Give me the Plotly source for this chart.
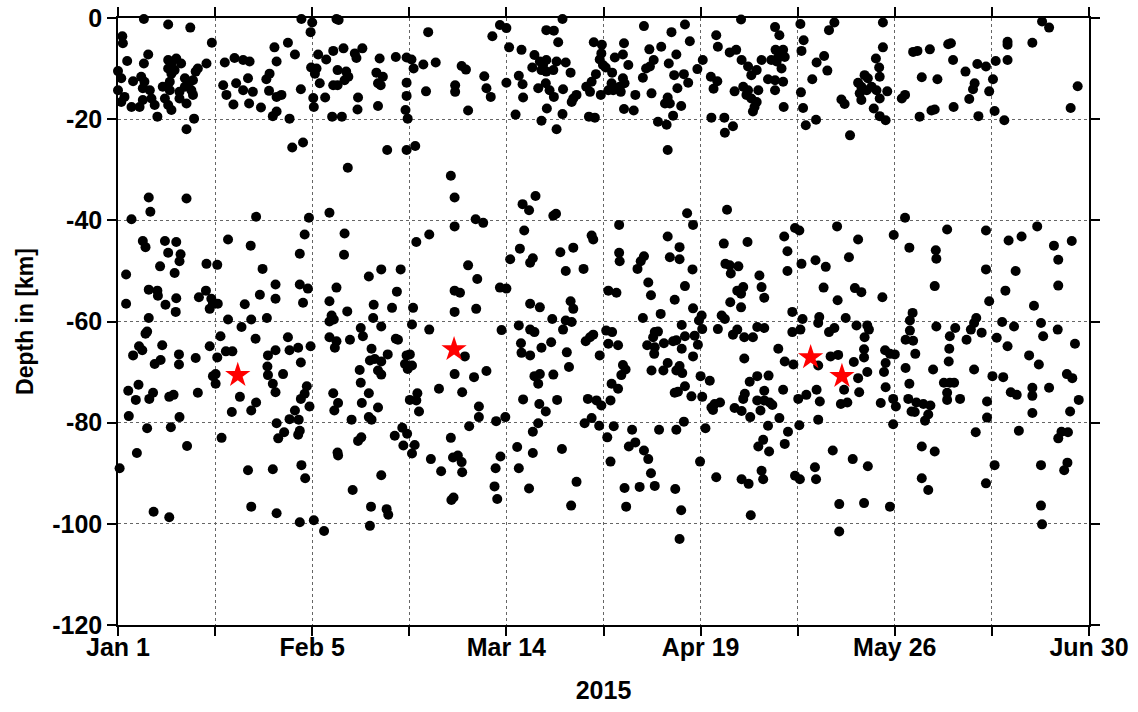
import plotly.graph_objects as go

# Day offsets are days since Jan 1 2015; depth in km (negative downwards)
tick_days = [0, 18, 36, 54, 72, 90, 108, 126, 144, 162, 180]
tick_text = ["Jan 1", "", "Feb 5", "", "Mar 14", "", "Apr 19", "", "May 26", "", "Jun 30"]
depth_ticks = [-120, -100, -80, -60, -40, -20, 0]

shallow_events = [
    (4.8,-0.2),(9.3,-1.3),(13.4,-1.9),(0.8,-3.6),(0.9,-5.0),(17.4,-4.9),(5.6,-7.2),(1.7,-8.5),(4.8,-9.0),(9.3,-8.3),
    (10.8,-8.0),(9.9,-9.0),(11.7,-9.0),(9.3,-10.0),(10.5,-10.3),(16.4,-9.0),(14.8,-10.0),(14.4,-10.6),(0.0,-10.5),(0.6,-11.9),
    (2.8,-12.5),(4.3,-11.6),(4.9,-12.6),(4.6,-13.9),(5.9,-14.3),(8.3,-13.6),(9.6,-12.6),(9.9,-11.0),(9.6,-14.3),(12.4,-11.9),
    (13.3,-12.6),(13.9,-12.3),(12.4,-13.6),(13.6,-14.3),(11.4,-14.6),(0.0,-14.3),(1.2,-15.6),(0.6,-16.6),(2.5,-17.6),(4.0,-17.6),
    (4.6,-16.2),(6.2,-15.9),(6.8,-17.2),(8.7,-15.9),(9.3,-17.2),(9.9,-18.2),(11.4,-15.9),(12.7,-16.9),(13.9,-15.2),(7.3,-19.5),
    (14.1,-19.9),(12.7,-22.0),(19.8,-8.8),(21.6,-7.9),(23.2,-8.3),(24.4,-8.6),(19.5,-13.3),(20.1,-15.2),(21.9,-12.9),(23.2,-14.3),
    (25.0,-14.6),(24.1,-11.9),(21.4,-17.1),(24.3,-16.9),(26.5,-17.7),(29.0,-5.8),(29.4,-8.6),(28.1,-11.0),(27.5,-12.1),(28.0,-14.4),
    (29.4,-15.6),(28.7,-19.4),(29.4,-18.5),
    (34.0,-0.2),(36.0,-0.9),(40.5,-0.2),(40.9,-0.4),(35.7,-2.8),(57.5,-2.8),(31.5,-4.9),(32.8,-7.2),(37.1,-7.2),(38.6,-8.2),
    (39.9,-6.5),(41.8,-6.0),(43.9,-7.0),(44.2,-7.9),(45.3,-6.0),(48.5,-8.0),(51.5,-7.7),(53.5,-7.8),(54.4,-8.2),(54.8,-10.0),
    (56.6,-9.2),(58.9,-8.8),(35.8,-9.8),(36.8,-10.0),(36.5,-11.0),(37.4,-12.9),(40.7,-10.3),(42.3,-10.6),(42.7,-11.6),(42.0,-12.3),
    (39.9,-13.3),(40.7,-13.3),(47.9,-10.8),(49.1,-11.6),(48.2,-12.9),(48.7,-13.3),(53.5,-12.8),(57.1,-14.5),(33.9,-14.1),(30.3,-15.2),
    (36.2,-15.8),(36.3,-17.6),(38.4,-15.7),(44.5,-15.7),(44.4,-18.1),(48.2,-17.4),(53.5,-15.4),(53.3,-18.2),(53.7,-19.9),(31.8,-19.9),
    (39.7,-19.5),(41.5,-19.5),
    (82.4,-0.2),(70.8,-1.4),(72.0,-2.0),(69.4,-3.6),(72.5,-5.8),(74.8,-6.3),(79.4,-2.4),(80.8,-2.5),(81.6,-4.8),(88.2,-4.8),
    (89.7,-5.3),(89.6,-7.0),(89.3,-8.2),(89.9,-9.3),(63.7,-9.5),(64.5,-10.2),(67.9,-11.5),(62.5,-13.3),(62.5,-14.6),(68.3,-13.9),
    (69.1,-15.6),(64.9,-18.3),(72.0,-12.8),(74.3,-11.4),(75.0,-13.1),(75.1,-15.7),(73.7,-19.1),(77.2,-7.3),(76.8,-9.8),(78.2,-8.6),
    (78.8,-9.3),(79.4,-8.3),(81.3,-8.6),(83.0,-8.8),(80.7,-10.3),(79.4,-10.6),(78.5,-10.3),(83.9,-10.8),(77.9,-13.9),(79.3,-12.9),
    (80.0,-14.3),(80.8,-15.6),(82.5,-14.1),(84.4,-15.9),(85.0,-15.2),(84.1,-16.6),(79.5,-17.9),(78.5,-20.3),(82.4,-19.0),(81.3,-22.0),
    (86.8,-13.6),(87.8,-12.6),(88.6,-11.1),(87.5,-14.6),(89.5,-15.2),(87.3,-19.5),(88.4,-19.7),(90.4,-9.8),(90.9,-14.3),
    (97.5,-1.6),(105.1,-1.3),(102.6,-2.8),(106.0,-4.6),(115.5,-0.3),(110.9,-3.4),(111.2,-5.7),(113.4,-6.8),(114.6,-6.3),(93.8,-5.0),
    (93.6,-7.2),(92.1,-7.8),(94.6,-9.3),(91.6,-10.8),(91.5,-12.9),(93.6,-11.9),(93.9,-12.9),(91.8,-14.3),(93.2,-14.6),(93.0,-13.6),
    (98.5,-6.2),(99.3,-8.3),(97.9,-10.0),(98.6,-9.6),(100.7,-5.7),(103.5,-7.2),(102.1,-9.0),(97.3,-11.8),(103.1,-11.3),(104.9,-11.1),
    (105.7,-12.8),(103.7,-13.9),(95.9,-15.2),(98.9,-14.9),(101.9,-15.7),(101.4,-16.9),(102.3,-16.9),(104.4,-17.4),(93.8,-18.0),(95.6,-18.3),
    (102.9,-19.3),(100.1,-20.5),(101.7,-21.1),(108.4,-8.3),(107.4,-10.1),(109.9,-11.6),(111.1,-12.5),(110.4,-14.0),(115.6,-8.3),(116.8,-9.6),
    (118.4,-10.3),(117.4,-11.3),(119.3,-8.3),(120.5,-12.1),(114.3,-14.5),(115.9,-13.6),(116.8,-14.3),(118.7,-14.3),(116.5,-15.2),(117.4,-15.9),
    (118.4,-16.6),(117.7,-18.5),(118.0,-17.6),(110.0,-19.7),(112.4,-19.7),(114.0,-21.4),(112.5,-22.7),
    (121.8,-1.8),(122.6,-3.4),(121.9,-6.3),(123.3,-6.3),(121.1,-8.3),(122.4,-7.7),(123.6,-7.7),(123.0,-10.0),(121.8,-12.3),(123.3,-12.6),
    (121.8,-14.3),(123.4,-17.6),(122.1,-8.6),(126.5,-1.2),(127.1,-4.4),(126.7,-6.5),(132.8,-0.9),(131.8,-2.4),(141.8,-0.9),(129.5,-8.8),
    (130.9,-7.5),(131.5,-10.4),(128.7,-12.1),(126.6,-14.7),(127.0,-17.8),(129.4,-20.1),(127.5,-21.2),(141.8,-5.8),(140.5,-8.0),(141.1,-9.8),
    (141.2,-11.6),(138.4,-11.3),(139.0,-11.9),(137.2,-12.8),(137.8,-13.6),(137.5,-14.9),(138.8,-14.3),(139.7,-13.6),(140.6,-14.3),(141.2,-15.9),
    (142.6,-14.5),(137.8,-16.2),(134.1,-16.1),(134.7,-17.0),(140.1,-17.9),(141.2,-19.4),(142.3,-20.2),(135.7,-23.2),(145.3,-15.9),(145.9,-15.2),
    (147.4,-6.7),(148.2,-6.5),(150.5,-6.2),(149.0,-11.7),(151.9,-12.1),(148.6,-19.5),(150.8,-18.3),(151.4,-18.1),
    (153.9,-5.2),(154.4,-5.0),(154.8,-8.3),(157.1,-10.6),(159.3,-9.1),(160.9,-9.6),(162.7,-8.5),(164.9,-8.3),(164.9,-4.7),(164.9,-5.3),
    (169.5,-4.9),(171.3,-0.7),(172.6,-1.9),(158.8,-12.9),(158.5,-14.1),(162.2,-12.1),(161.5,-14.5),(157.8,-16.0),(154.9,-17.6),(159.5,-19.4),
    (162.5,-18.4),(164.3,-20.2),(177.9,-13.5),(176.6,-17.8),
]

deep_events = [
    (5.7,-35.5),(6.0,-38.3),(12.7,-35.7),(2.5,-39.8),(25.6,-39.3),(4.6,-44.1),(5.1,-45.3),(8.7,-44.1),(10.8,-44.3),(9.3,-46.4),
    (11.6,-46.7),(11.4,-48.1),(7.8,-49.1),(10.5,-50.4),(1.5,-50.7),(16.4,-48.6),(18.4,-48.8),(20.4,-43.8),(24.6,-45.0),(26.8,-49.6),
    (5.7,-53.7),(7.3,-53.9),(7.4,-54.9),(8.8,-56.7),(10.8,-55.4),(10.7,-58.1),(1.5,-56.5),(15.0,-55.2),(16.3,-53.9),(17.3,-55.5),
    (17.6,-56.5),(18.5,-56.5),(17.0,-57.5),(23.5,-56.6),(26.3,-54.7),(29.2,-52.7),(29.2,-55.5),(5.7,-59.3),(5.1,-62.4),(5.4,-62.0),
    (3.9,-64.9),(4.5,-65.7),(2.8,-66.7),(8.2,-64.7),(6.8,-68.4),(7.9,-67.6),(11.3,-66.5),(11.3,-68.5),(14.4,-67.2),(17.0,-64.9),
    (19.0,-62.9),(18.4,-67.1),(20.0,-65.9),(21.2,-65.9),(20.4,-59.6),(22.9,-61.1),(24.7,-59.6),(25.5,-63.4),(27.6,-59.3),(29.2,-65.7),
    (27.8,-66.7),(27.7,-68.9),(27.8,-70.6),(28.7,-72.3),(29.2,-74.0),(18.1,-70.4),(17.6,-70.8),(18.1,-72.3),(1.9,-73.7),(3.8,-72.5),
    (3.3,-75.5),(6.5,-74.1),(5.8,-75.3),(9.5,-74.9),(10.3,-74.5),(14.8,-74.1),(22.6,-74.9),(25.6,-76.0),(21.1,-77.9),(24.7,-77.6),
    (2.0,-78.7),(5.4,-81.1),(9.8,-80.9),(11.4,-78.9),(12.8,-84.6),(3.5,-86.0),(19.2,-83.0),(29.4,-80.1),(29.7,-83.1),(0.3,-89.0),
    (24.1,-89.4),(28.7,-89.2),(6.6,-97.6),(9.5,-98.7),(24.7,-96.6),(29.4,-97.9),
    (32.3,-25.6),(34.3,-24.6),(42.6,-29.6),(49.9,-26.1),(53.5,-26.1),(55.1,-25.3),(39.2,-38.5),(35.4,-39.5),(34.6,-42.8),(33.7,-46.6),
    (42.0,-42.6),(41.9,-46.8),(55.3,-44.3),(57.7,-42.8),(33.7,-52.7),(35.2,-53.5),(34.3,-56.3),(40.5,-53.3),(39.2,-56.0),(42.5,-58.0),
    (46.5,-51.1),(48.8,-49.7),(52.4,-49.7),(51.7,-54.1),(50.8,-57.3),(47.4,-56.7),(47.3,-59.3),(54.7,-57.3),(54.5,-60.6),(57.7,-61.6),
    (39.6,-58.8),(39.2,-60.0),(40.0,-59.6),(45.0,-61.3),(45.4,-62.9),(48.8,-61.0),(39.2,-63.1),(40.5,-63.9),(40.2,-65.2),(43.0,-63.6),
    (51.9,-63.6),(51.5,-63.4),(31.5,-63.1),(31.8,-65.7),(33.4,-65.2),(35.7,-64.9),(33.9,-68.1),(30.6,-70.4),(47.0,-65.4),(46.7,-67.7),
    (47.6,-67.4),(48.8,-67.9),(50.0,-66.5),(48.2,-69.7),(48.8,-70.5),(44.8,-69.6),(45.0,-72.1),(53.5,-66.7),(54.1,-66.5),(53.2,-68.4),
    (53.7,-69.4),(54.5,-68.7),(35.0,-72.8),(34.6,-74.3),(33.9,-75.3),(35.5,-76.8),(32.8,-77.6),(31.8,-79.3),(33.5,-79.4),(33.7,-81.6),
    (33.4,-82.4),(30.8,-81.9),(39.9,-74.2),(40.8,-76.1),(40.1,-77.6),(43.3,-79.4),(45.2,-76.1),(46.5,-74.2),(48.2,-77.0),(46.5,-78.9),
    (47.0,-79.4),(54.1,-75.5),(55.5,-74.2),(55.3,-75.6),(55.8,-77.8),(59.5,-73.3),(52.7,-81.0),(53.6,-82.2),(51.3,-82.6),(52.9,-84.5),
    (55.0,-84.4),(54.5,-86.1),(58.0,-87.2),(59.9,-89.6),(40.7,-85.9),(40.8,-86.5),(44.5,-83.6),(45.1,-82.9),(34.0,-88.4),(34.7,-91.0),
    (48.8,-90.4),(43.5,-93.3),(46.9,-96.6),(49.8,-97.1),(50.1,-98.2),(33.7,-99.7),(36.3,-99.3),(38.2,-101.4),(46.7,-100.4),
    (61.7,-31.2),(62.4,-35.5),(62.4,-41.2),(66.3,-39.8),(67.7,-40.5),(64.9,-48.9),(66.6,-51.6),(62.4,-53.9),(63.4,-54.3),(62.4,-58.1),
    (66.4,-57.5),(71.1,-61.7),(70.8,-53.3),(72.0,-53.5),(64.3,-66.9),(62.4,-70.4),(66.0,-71.0),(68.3,-69.8),(63.8,-74.0),(66.9,-76.8),
    (66.9,-78.9),(65.1,-80.7),(70.1,-79.7),(71.8,-78.9),(61.7,-83.0),(62.1,-86.9),(63.0,-86.5),(63.7,-87.8),(63.8,-89.8),(70.0,-89.0),
    (70.9,-86.7),(69.8,-92.6),(70.3,-95.1),(62.2,-94.8),(61.8,-95.3),(75.0,-36.8),(76.2,-38.0),(77.4,-35.2),(80.7,-39.1),(81.2,-38.7),
    (75.3,-42.0),(74.5,-45.6),(72.7,-47.7),(76.9,-47.5),(76.4,-48.4),(82.0,-46.3),(84.4,-45.4),(83.0,-50.0),(86.3,-49.6),(87.8,-43.0),
    (88.1,-43.8),(76.4,-56.5),(78.2,-57.2),(80.5,-59.5),(83.9,-56.0),(84.4,-57.5),(83.0,-59.8),(84.1,-60.1),(82.5,-61.6),(74.3,-60.8),
    (76.4,-61.6),(77.2,-62.1),(74.7,-64.3),(74.8,-66.2),(76.4,-66.7),(78.5,-65.2),(80.3,-64.1),(83.2,-66.1),(83.6,-69.0),(77.2,-70.8),
    (78.2,-70.4),(77.9,-72.3),(80.7,-70.5),(75.1,-75.4),(78.1,-76.3),(79.3,-77.8),(81.4,-75.5),(77.9,-80.1),(76.9,-81.8),(74.0,-84.8),
    (76.9,-86.0),(74.3,-89.0),(76.2,-93.0),(82.3,-85.2),(85.0,-91.7),(84.0,-96.4),(86.7,-63.9),(87.5,-63.1),(88.1,-62.6),(89.3,-66.7),
    (87.1,-75.3),(88.7,-75.6),(89.6,-76.6),(87.8,-79.1),(86.5,-80.1),(89.2,-80.6),
    (101.9,-26.1),(105.5,-38.6),(106.6,-40.9),(112.9,-37.9),(92.9,-40.9),(92.9,-46.4),(93.0,-48.1),(97.5,-47.1),(96.9,-48.1),(96.3,-49.6),
    (101.9,-43.2),(104.1,-45.3),(102.3,-47.3),(104.1,-47.7),(106.5,-49.7),(112.3,-44.6),(116.7,-44.3),(112.6,-48.6),(113.4,-48.9),(115.0,-49.1),
    (113.6,-50.5),(118.9,-50.9),(119.3,-53.2),(119.8,-55.3),(98.3,-52.3),(98.8,-54.8),(105.1,-53.0),(103.2,-55.7),(106.6,-57.4),(100.6,-58.5),
    (97.3,-59.3),(90.9,-53.9),(92.4,-54.3),(108.2,-58.8),(107.7,-59.8),(111.9,-58.8),(112.5,-59.5),(113.5,-56.2),(115.5,-57.2),(114.8,-53.9),
    (115.9,-53.2),(115.5,-54.5),(104.5,-60.7),(108.3,-61.5),(106.9,-62.8),(105.1,-62.9),(107.5,-64.6),(104.5,-65.4),(106.6,-66.9),(111.2,-61.5),
    (114.0,-62.6),(114.8,-61.6),(116.1,-63.1),(117.7,-63.1),(118.5,-61.1),(119.8,-61.3),(90.5,-61.8),(91.6,-62.1),(90.9,-64.4),(92.7,-64.7),
    (99.5,-62.1),(100.1,-62.0),(99.2,-63.1),(98.1,-64.7),(99.5,-65.1),(99.4,-66.4),(101.2,-64.3),(102.9,-63.9),(103.5,-63.7),(93.6,-68.6),
    (94.1,-69.5),(93.3,-70.6),(98.9,-69.7),(101.1,-69.7),(101.9,-68.2),(103.5,-69.7),(104.1,-68.8),(104.6,-70.2),(91.5,-72.3),(92.7,-73.3),
    (91.3,-75.6),(103.2,-74.1),(103.8,-73.9),(105.1,-72.8),(106.3,-74.8),(108.3,-74.9),(108.0,-70.8),(109.7,-71.7),(116.1,-67.3),(110.0,-77.0),
    (110.6,-76.3),(111.6,-76.0),(110.3,-77.5),(114.3,-77.1),(115.6,-77.7),(117.2,-78.9),(115.9,-75.3),(116.2,-74.3),(117.1,-71.9),(118.5,-70.8),
    (119.8,-73.7),(120.6,-70.7),(118.5,-75.6),(119.8,-75.6),(120.8,-76.0),(119.1,-77.6),(121.3,-76.5),(91.9,-80.7),(90.7,-82.9),(95.3,-81.4),
    (100.3,-81.4),(103.5,-81.4),(104.9,-79.8),(108.9,-81.1),(94.7,-84.7),(95.9,-83.9),(97.5,-85.5),(98.3,-87.2),(98.8,-90.0),(91.3,-87.7),
    (120.5,-80.6),(119.6,-83.4),(118.7,-84.7),(120.7,-85.7),(119.3,-89.5),(119.6,-91.2),(107.9,-87.7),(110.9,-90.8),(115.6,-91.2),(116.9,-92.1),
    (93.9,-92.9),(96.7,-92.7),(99.5,-92.5),(103.3,-93.1),(94.2,-96.6),(104.4,-97.3),(117.3,-98.3),(104.1,-103.0),
    (145.9,-39.5),(125.5,-41.5),(126.3,-42.0),(123.5,-43.2),(133.3,-41.2),(137.2,-43.8),(143.8,-42.9),(146.7,-45.4),(151.6,-45.9),(151.7,-47.6),
    (124.1,-46.1),(124.1,-50.0),(126.7,-48.6),(129.3,-47.9),(131.2,-49.2),(135.5,-47.3),(130.8,-53.3),(136.6,-53.4),(137.8,-54.2),(141.7,-55.2),
    (133.4,-55.8),(151.4,-53.0),(125.0,-58.1),(126.9,-59.5),(130.0,-59.1),(129.8,-60.3),(134.9,-59.3),(126.5,-61.6),(125.0,-62.1),(131.8,-62.1),
    (132.8,-61.3),(136.9,-60.8),(138.9,-60.8),(139.2,-61.6),(138.4,-63.1),(147.3,-58.3),(146.8,-59.8),(146.8,-61.8),(146.0,-63.6),(147.4,-63.8),
    (151.7,-61.0),(122.4,-65.4),(123.6,-67.9),(125.2,-68.5),(129.8,-68.7),(132.1,-66.9),(133.5,-66.6),(136.4,-68.0),(138.3,-65.5),(138.3,-67.1),
    (142.2,-65.7),(143.1,-66.4),(144.0,-66.5),(142.3,-68.2),(142.0,-70.0),(138.9,-70.0),(137.2,-71.2),(147.8,-66.4),(146.0,-69.2),(151.1,-69.5),
    (123.3,-73.5),(126.1,-75.3),(127.6,-74.5),(129.5,-73.5),(130.1,-75.8),(134.6,-73.5),(137.4,-74.0),(134.0,-76.3),(135.2,-76.0),(141.4,-76.1),
    (142.3,-73.0),(143.7,-75.3),(144.2,-76.8),(146.7,-72.3),(146.5,-75.3),(147.1,-77.8),(148.0,-76.0),(149.3,-76.3),(150.6,-76.6),(150.2,-78.4),
    (149.6,-79.6),(147.7,-77.9),(122.6,-79.1),(124.2,-81.8),(123.6,-84.2),(126.3,-80.5),(129.8,-79.4),(143.7,-80.3),(132.5,-85.5),(136.2,-87.2),
    (139.0,-88.6),(129.2,-88.8),(125.5,-90.5),(126.4,-91.2),(129.4,-91.2),(149.0,-84.7),(151.4,-85.7),(149.0,-91.0),(150.2,-93.3),(133.7,-96.1),
    (138.3,-95.9),(143.1,-96.6),(133.7,-101.5),
    (153.7,-41.8),(160.9,-42.0),(165.1,-44.0),(167.5,-43.2),(170.4,-41.2),(173.5,-45.0),(176.8,-44.1),(174.3,-47.8),(160.9,-49.7),(166.4,-50.0),
    (164.5,-53.9),(174.3,-52.9),(161.5,-56.0),(169.8,-56.9),(154.2,-62.9),(155.2,-61.3),(154.1,-65.4),(154.0,-67.9),(157.3,-63.6),(158.1,-61.6),
    (158.7,-60.3),(159.1,-59.3),(160.1,-62.2),(158.7,-69.5),(162.9,-63.2),(163.9,-60.1),(166.1,-61.0),(164.9,-64.9),(168.9,-66.7),(170.7,-68.5),
    (171.1,-60.3),(171.5,-62.9),(174.2,-61.6),(177.4,-64.4),(153.1,-72.1),(154.2,-72.1),(155.0,-72.1),(153.7,-74.1),(153.7,-75.5),(156.1,-75.3),
    (162.1,-70.8),(164.1,-71.0),(165.5,-74.0),(166.6,-74.5),(169.5,-73.1),(169.5,-74.7),(172.6,-73.1),(175.9,-70.4),(176.9,-71.2),(178.1,-75.5),
    (176.5,-77.8),(169.5,-78.1),(161.1,-75.8),(161.1,-79.0),(159.0,-81.9),(167.0,-81.6),(174.3,-83.1),(174.9,-81.8),(176.1,-81.9),(162.5,-88.4),
    (171.1,-88.4),(176.0,-87.9),(175.4,-89.4),(160.9,-92.0),(171.1,-96.4),(171.3,-100.1),
]

main_shocks = [(22.2, -70.6), (62.3, -65.5), (128.4, -67.1), (134.2, -70.8)]

all_events = shallow_events + deep_events
ev_day = [p[0] for p in all_events]
ev_depth = [p[1] for p in all_events]
ms_day = [p[0] for p in main_shocks]
ms_depth = [p[1] for p in main_shocks]

FONT = "Liberation Sans, Arial, sans-serif"
TICKFONT = dict(family=FONT, size=25, color="black", weight="bold")
XTITLEFONT = dict(family=FONT, size=25, color="black", weight="bold")
YTITLEFONT = dict(family=FONT, size=23, color="black", weight="bold")

fig = go.Figure()
fig.add_trace(go.Scatter(
    x=ev_day, y=ev_depth, mode="markers",
    marker=dict(symbol="circle", size=10, color="black", line=dict(width=0)),
    cliponaxis=False, showlegend=False, hoverinfo="skip",
))
fig.add_trace(go.Scatter(
    x=ms_day, y=ms_depth, mode="markers",
    marker=dict(symbol="star", size=19, color="#ff0000", line=dict(width=0)),
    cliponaxis=False, showlegend=False, hoverinfo="skip",
))

axis_common = dict(
    showline=True, linecolor="black", linewidth=1.5, mirror="ticks",
    ticks="outside", ticklen=9, tickwidth=1.5, tickcolor="black",
    showgrid=True, gridcolor="#666666", griddash="dot", gridwidth=1,
    zeroline=False, tickfont=TICKFONT, automargin=False,
    ticklabeloverflow="allow",
)

fig.update_xaxes(
    range=[0, 180], tickmode="array", tickvals=tick_days, ticktext=tick_text,
    ticklabelstandoff=-10,
    title=dict(text="2015", font=XTITLEFONT, standoff=22),
    **axis_common,
)
fig.update_yaxes(
    range=[-120, 0], tickmode="array", tickvals=depth_ticks,
    ticktext=[str(v) for v in depth_ticks],
    title=dict(text="Depth in [km]", font=YTITLEFONT, standoff=12),
    **axis_common,
)

fig.update_layout(
    width=1138, height=712,
    margin=dict(l=118, r=49, t=18, b=87),
    paper_bgcolor="white", plot_bgcolor="white",
    font=dict(family=FONT, color="black"),
)

# Remove the default 8px page margin so the figure fills the window exactly.
fig.write_html(
    "out.html",
    config={"displayModeBar": False},
    post_script="document.body.style.margin='0px';",
)
